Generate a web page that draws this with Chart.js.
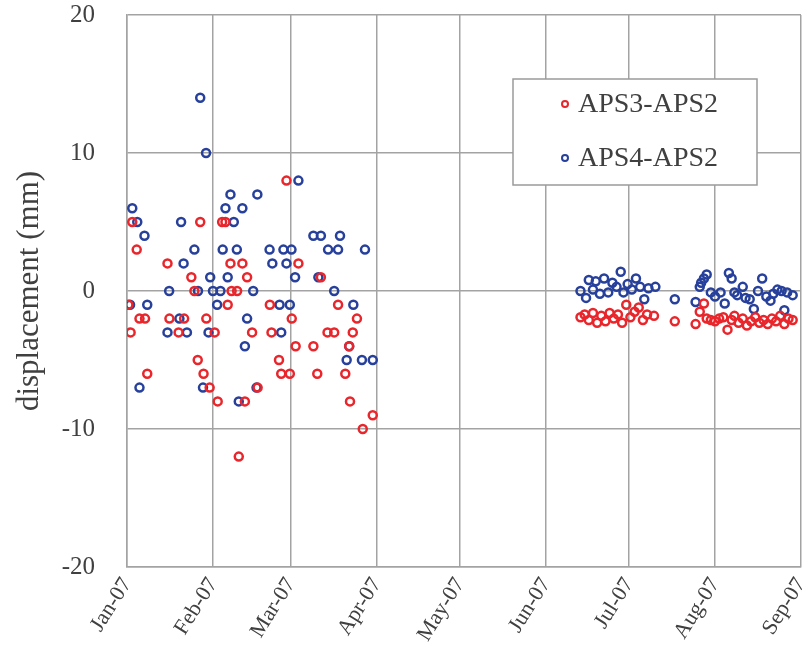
<!DOCTYPE html>
<html>
<head>
<meta charset="utf-8">
<script src="https://cdn.jsdelivr.net/npm/chart.js@4.4.0/dist/chart.umd.min.js"></script>
<style>
   html, body { margin: 0; padding: 0; background: #fff; }
   #chart { display: block; }
</style>
</head>
<body>
<canvas id="chart" width="808" height="668"></canvas>
<script>
// days counted from 1 Jan 2007
const monthDays = [0, 31, 59, 90, 120, 151, 181, 212, 243];
const monthLabels = ["Jan-07", "Feb-07", "Mar-07", "Apr-07", "May-07", "Jun-07", "Jul-07", "Aug-07", "Sep-07"];
const yTicks = [-20, -10, 0, 10, 20];

const seriesNames = ["APS3-APS2", "APS4-APS2"];

// APS3-APS2: [day, displacement mm]
const aps3Early = [
   [0.5, -1], [1.3, -3], [1.9, 5], [3.5, 3], [4.5, -2], [6.5, -2], [7.3, -6], [14.6, 2],
   [15.3, -2], [18.6, -3], [20.6, -2], [23.2, 1], [24.3, 0], [25.5, -5], [26.4, 5], [27.6, -6],
   [28.6, -2], [29.8, -7], [31.6, -3], [32.7, -8], [34.3, 5], [35.5, 5], [36.3, -1], [37.3, 2],
   [37.7, 0], [39.7, 0], [40.3, -12], [41.6, 2], [42.5, -8], [43.3, 1], [45.1, -3], [47.1, -7],
   [51.5, -1], [52.1, -3], [54.8, -5], [55.6, -6], [57.5, 8], [58.7, -6], [59.4, -2], [60.8, -4],
   [61.8, 2], [67.2, -4], [68.6, -6], [69.9, 1], [72.3, -3], [74.7, -3], [76.1, -1], [78.7, -6],
   [80.1, -4], [80.4, -8], [81.4, -3], [82.9, -2], [85.0, -10], [88.6, -9]
];
const aps3Summer = [
   [163.5, -1.9], [165, -1.7], [166.5, -2.1], [168, -1.6], [169.5, -2.3], [171, -1.8],
   [172.5, -2.2], [174, -1.6], [175.5, -2.0], [177, -1.7], [178.5, -2.3], [180, -1.0],
   [181.5, -1.9], [183, -1.5], [184.5, -1.2], [186, -2.1], [187.5, -1.7], [190, -1.8],
   [197.5, -2.2], [205, -2.4], [206.5, -1.5], [208, -0.9], [209, -2.0], [210.5, -2.1],
   [212, -2.2], [213.5, -2.0], [215, -1.9], [216.5, -2.8], [218, -2.1], [219, -1.8],
   [220.5, -2.3], [222, -2.0], [223.5, -2.5], [225, -2.2], [226.5, -1.9], [228, -2.3],
   [229.5, -2.1], [231, -2.4], [232.5, -2.0], [234, -2.2], [235.5, -1.8], [237, -2.4],
   [238.5, -2.0], [240, -2.1]
];

// APS4-APS2: [day, displacement mm]
const aps4Early = [
   [1.1, -1], [1.9, 6], [3.7, 5], [4.5, -7], [6.3, 4], [7.3, -1], [14.6, -3], [15.2, 0],
   [18.9, -2], [19.5, 5], [20.4, 2], [21.6, -3], [24.3, 3], [25.6, 0], [26.4, 14], [27.4, -7],
   [28.5, 10], [29.4, -3], [30.0, 1], [31.0, 0], [32.5, -1], [33.7, 0], [34.5, 3], [35.5, 6],
   [36.3, 1], [37.3, 7], [38.5, 5], [39.6, 3], [40.3, -8], [41.6, 6], [42.5, -4], [43.3, -2],
   [45.5, 0], [46.7, -7], [47.0, 7], [51.4, 3], [52.4, 2], [55.0, -1], [55.6, -3], [56.4, 3],
   [57.5, 2], [58.7, -1], [59.3, 3], [60.6, 1], [61.8, 8], [67.2, 4], [69.0, 1], [69.9, 4],
   [72.5, 3], [74.7, 0], [76.1, 3], [76.8, 4], [79.2, -5], [80.1, -4], [81.6, -1], [84.7, -5],
   [85.8, 3], [88.6, -5]
];
const aps4Summer = [
   [163.5, 0.0], [165.5, -0.5], [166.5, 0.8], [168, 0.1], [169, 0.7], [170.5, -0.2],
   [172, 0.9], [173.5, -0.1], [175, 0.6], [176.5, 0.3], [178, 1.4], [179, -0.1],
   [180.5, 0.5], [182, 0.1], [183.5, 0.9], [185, 0.3], [186.5, -0.6], [188, 0.2],
   [190.5, 0.3], [197.5, -0.6], [205, -0.8], [206.5, 0.3], [207, 0.6], [208, 0.9],
   [209, 1.2], [210.5, -0.1], [212, -0.4], [214, -0.1], [215.5, -0.9], [217, 1.3],
   [218, 0.9], [219, -0.1], [220, -0.3], [222, 0.3], [223, -0.5], [224.5, -0.6],
   [226, -1.3], [227.5, 0.0], [229, 0.9], [230.5, -0.4], [232, -0.7], [233, -0.2],
   [234.5, 0.1], [236, 0.0], [237, -1.4], [238, -0.1], [240, -0.3]
];

const RED = "#e8262b";
const BLUE = "#27409b";
const GRID = "#a3a3a3";
const TEXT = "#404040";
const SERIF = "\"Liberation Serif\", \"Times New Roman\", Times, serif";

function toPoints(rows)
{
   return rows.map(function(r) { return { x: r[0], y: r[1] }; });
}

// legend drawn as a boxed panel inside the plot, like the original
const boxLegend =
{
   id: "boxLegend",
   afterDraw(chart)
   {
      const ctx = chart.ctx;
      const x0 = 513, y0 = 79, w = 244, h = 106;
      ctx.save();
      ctx.fillStyle = "#fff";
      ctx.fillRect(x0, y0, w, h);
      ctx.strokeStyle = "#9a9a9a";
      ctx.lineWidth = 1.5;
      ctx.strokeRect(x0, y0, w, h);
      chart.data.datasets.forEach(function(ds, i)
      {
         const cy = y0 + 25 + i * 54;
         ctx.beginPath();
         ctx.arc(x0 + 52, cy, 3, 0, Math.PI * 2);
         ctx.strokeStyle = ds.borderColor;
         ctx.lineWidth = 2;
         ctx.stroke();
         ctx.fillStyle = TEXT;
         ctx.font = "28px " + SERIF;
         ctx.textBaseline = "middle";
         ctx.textAlign = "left";
         ctx.fillText(ds.label, x0 + 65, cy + 1);
      });
      ctx.restore();
   }
};

const ctx = document.getElementById("chart").getContext("2d");
const chart = new Chart(ctx,
{
   type: "scatter",
   data:
   {
      datasets: [
         {
            label: seriesNames[0],
            data: toPoints(aps3Early.concat(aps3Summer)),
            borderColor: RED,
            backgroundColor: "rgba(0,0,0,0)",
            borderWidth: 2.5,
            pointRadius: 4,
         },
         {
            label: seriesNames[1],
            data: toPoints(aps4Early.concat(aps4Summer)),
            borderColor: BLUE,
            backgroundColor: "rgba(0,0,0,0)",
            borderWidth: 2.5,
            pointRadius: 4,
         },
      ],
   },
   options:
   {
      responsive: false,
      animation: false,
      layout: { padding: { top: 15, right: 7, left: 0, bottom: 0 } },
      plugins:
      {
         legend: { display: false },
         tooltip: { enabled: false },
      },
      scales:
      {
         x:
         {
            type: "linear",
            min: monthDays[0],
            max: monthDays[monthDays.length - 1],
            afterBuildTicks: function(scale)
            {
               scale.ticks = monthDays.map(function(v) { return { value: v }; });
            },
            afterFit: function(scale)
            {
               scale.height = 101;
               scale.paddingLeft = 0;
               scale.paddingRight = 0;
            },
            grid: { color: GRID, lineWidth: 1.5, drawTicks: false },
            border: { color: GRID, width: 1.5 },
            ticks:
            {
               minRotation: 58,
               maxRotation: 58,
               padding: 6,
               color: TEXT,
               font: { family: SERIF, size: 22 },
               callback: function(value)
               {
                  const i = monthDays.indexOf(value);
                  return i >= 0 ? monthLabels[i] : "";
               },
            },
         },
         y:
         {
            min: yTicks[0],
            max: yTicks[yTicks.length - 1],
            afterBuildTicks: function(scale)
            {
               scale.ticks = yTicks.map(function(v) { return { value: v }; });
            },
            afterFit: function(scale)
            {
               scale.width = 127;
               scale.paddingTop = 0;
               scale.paddingBottom = 0;
            },
            grid: { color: GRID, lineWidth: 1.5, drawTicks: false },
            border: { color: GRID, width: 1.5 },
            ticks:
            {
               padding: 32,
               color: TEXT,
               font: { family: SERIF, size: 25 },
            },
            title:
            {
               display: true,
               text: "displacement (mm)",
               color: TEXT,
               font: { family: SERIF, size: 31 },
               padding: { top: 11, bottom: 0 },
            },
         },
      },
   },
   plugins: [boxLegend],
});
</script>
</body>
</html>
